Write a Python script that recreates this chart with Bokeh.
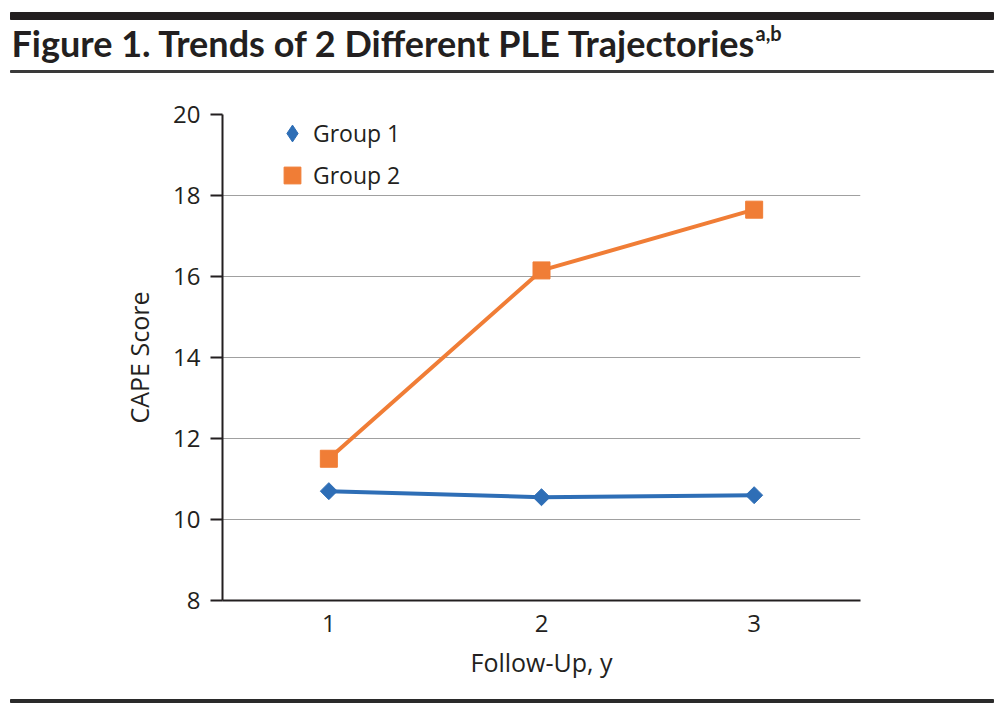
import math
from bokeh.plotting import figure
from bokeh.models import Range1d, FixedTicker, Legend, LegendItem
from bokeh.layouts import column
from bokeh.embed import file_html
from bokeh.resources import INLINE
from bokeh.core.properties import value

# ---- data ----
followup = [1, 2, 3]
group1 = [10.7, 10.55, 10.6]
group2 = [11.5, 16.15, 17.65]
series_names = ["Group 1", "Group 2"]
y_ticks = [8, 10, 12, 14, 16, 18, 20]
x_ticks = [1, 2, 3]
title_text = "Figure 1. Trends of 2 Different PLE Trajectories"
title_sup = "a,b"
x_label = "Follow-Up, y"
y_label = "CAPE Score"

# ---- style ----
W = 1000
INK = "#231f20"
FONT = "Open Sans"
TITLE_FONT = "Lato"
BLUE = "#2e6eb6"
ORANGE = "#f07d36"


def blank(h):
    f = figure(width=W, height=h, x_range=Range1d(0, W), y_range=Range1d(h, 0),
               x_axis_type=None, y_axis_type=None, output_backend="svg",
               toolbar_location=None, min_border=0, frame_align=False)
    f.grid.visible = False
    f.outline_line_color = None
    return f


# ---- header: thick rule, title, thin rule ----
header = blank(80)
header.quad(left=10, right=993, top=12, bottom=19, color=INK)
header.text(x=[11], y=[42], text=[title_text], text_font=value(TITLE_FONT),
            text_font_style="bold", text_font_size="36px", text_color=INK,
            text_baseline="middle", text_align="left")
header.text(x=[755], y=[32], text=[title_sup], text_font=value(TITLE_FONT),
            text_font_style="bold", text_font_size="20px", text_color=INK,
            text_baseline="middle", text_align="left")
header.quad(left=10, right=993, top=70, bottom=72, color="#3a3a3a")

# ---- main chart ----
p = figure(width=W, height=612, x_range=Range1d(0.5, 3.5), y_range=Range1d(8, 20),
           min_border_left=222, min_border_right=W - 860, min_border_top=34,
           min_border_bottom=92, output_backend="svg", toolbar_location=None,
           frame_align=False)
p.outline_line_color = None
p.xgrid.visible = False
p.ygrid.grid_line_color = "#a0a0a0"
p.ygrid.grid_line_width = 1

p.yaxis.ticker = FixedTicker(ticks=y_ticks)
p.xaxis.ticker = FixedTicker(ticks=x_ticks)
for ax in (p.xaxis[0], p.yaxis[0]):
    ax.axis_line_color = INK
    ax.axis_line_width = 2
    ax.major_tick_line_color = INK
    ax.major_tick_line_width = 2
    ax.minor_tick_line_color = None
    ax.major_label_text_font = FONT
    ax.major_label_text_font_size = "24px"
    ax.major_label_text_color = INK
    ax.axis_label_text_font = FONT
    ax.axis_label_text_font_size = "25px"
    ax.axis_label_text_font_style = "normal"
    ax.axis_label_text_color = INK

p.yaxis.major_tick_out = 12
p.yaxis.major_tick_in = 0
p.yaxis.major_label_standoff = 10
p.yaxis.axis_label = y_label
p.yaxis.axis_label_standoff = 14

p.xaxis.major_tick_out = 0
p.xaxis.major_tick_in = 0
p.xaxis.major_label_standoff = 14
p.xaxis.axis_label = x_label
p.xaxis.axis_label_standoff = 10

p.line(followup, group1, line_width=4, color=BLUE)
r1 = p.scatter(followup, group1, marker="square", size=12, angle=math.pi / 4, color=BLUE)
p.line(followup, group2, line_width=4, color=ORANGE)
r2 = p.scatter(followup, group2, marker="square", size=17, color=ORANGE)
# hidden legend key for group 1 (legend glyphs are never rotated, so use a diamond)
r1_key = p.scatter(followup, group1, marker="diamond", color=BLUE, visible=False)

common = dict(padding=0, spacing=0, margin=0, border_line_color=None,
              background_fill_alpha=0, label_text_font=FONT,
              label_text_font_size="23px", label_text_color=INK,
              inactive_fill_alpha=0, glyph_width=42, glyph_height=42, label_standoff=0)
leg1 = Legend(items=[LegendItem(label=series_names[0], renderers=[r1_key])],
              location=(49, 446), **common)
leg2 = Legend(items=[LegendItem(label=series_names[1], renderers=[r2])],
              location=(49, 404), **common)
p.add_layout(leg1)
p.add_layout(leg2)

# ---- footer rule ----
footer = blank(14)
footer.quad(left=10, right=993, top=7, bottom=10, color="#2a2a2a")

layout = column(header, p, footer, spacing=0)
open("out.html", "w").write(file_html(layout, INLINE))
